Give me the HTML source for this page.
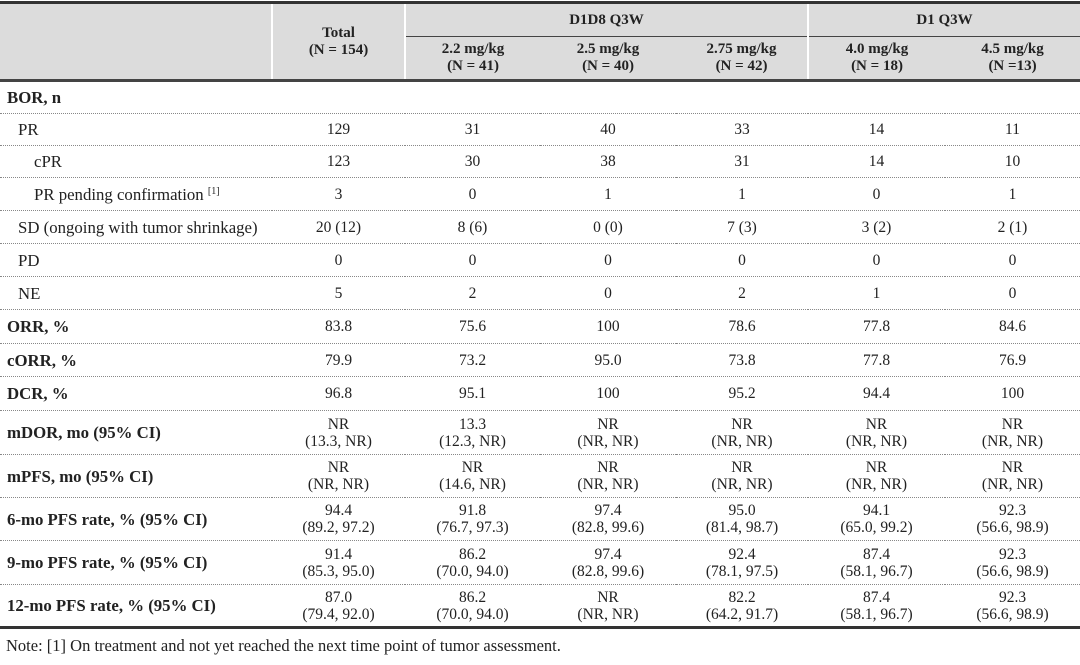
<!DOCTYPE html>
<html><head><meta charset="utf-8"><style>
html,body{margin:0;padding:0;background:#fff;width:1080px;height:665px;overflow:hidden}
body{font-family:"Liberation Serif",serif;font-size:15px;color:#222}
table{position:absolute;left:0;top:1px;width:1080px;border-collapse:collapse;table-layout:fixed;border-top:3px solid #333;border-bottom:3px solid #333}
td,th{padding:0;text-align:center;vertical-align:middle;line-height:17px}
tbody td{font-size:15.5px}
thead th{background:#dcdcdc;font-weight:bold}
thead tr.h1 th{height:32px}
thead tr.h2 th{height:42px}
.sep{border-left:2px solid #fff}
.gl{border-bottom:1.5px solid #444}
thead{border-bottom:3px solid #444}
tbody td{border-bottom:1px dotted #888}
tbody tr:last-child td{border-bottom:none}
td.l,td.l2,td.l3{text-align:left;font-size:16.8px}
td.l{padding-left:7px}
td.l2{padding-left:18px}
td.l3{padding-left:34px}
.b{font-weight:bold}
sup{font-size:10px;vertical-align:6px;line-height:0}
.note{position:absolute;left:6px;top:636px;font-size:16.5px}
</style></head><body>
<table>
<colgroup><col style="width:272px"><col style="width:133px"><col style="width:135px"><col style="width:136px"><col style="width:132px"><col style="width:137px"><col style="width:135px"></colgroup>
<thead>
<tr class="h1"><th rowspan="2"></th><th rowspan="2" class="sep">Total<br>(N = 154)</th><th colspan="3" class="sep gl">D1D8 Q3W</th><th colspan="2" class="sep gl">D1 Q3W</th></tr>
<tr class="h2"><th class="sep">2.2 mg/kg<br>(N = 41)</th><th>2.5 mg/kg<br>(N = 40)</th><th>2.75 mg/kg<br>(N = 42)</th><th class="sep">4.0 mg/kg<br>(N = 18)</th><th>4.5 mg/kg<br>(N =13)</th></tr>
</thead>
<tbody>
<tr style="height:33px"><td class="l b">BOR, n</td><td></td><td></td><td></td><td></td><td></td><td></td></tr>
<tr style="height:32px"><td class="l2">PR</td><td>129</td><td>31</td><td>40</td><td>33</td><td>14</td><td>11</td></tr>
<tr style="height:32px"><td class="l3">cPR</td><td>123</td><td>30</td><td>38</td><td>31</td><td>14</td><td>10</td></tr>
<tr style="height:33px"><td class="l3">PR pending confirmation <sup>[1]</sup></td><td>3</td><td>0</td><td>1</td><td>1</td><td>0</td><td>1</td></tr>
<tr style="height:33px"><td class="l2">SD (ongoing with tumor shrinkage)</td><td>20 (12)</td><td>8 (6)</td><td>0 (0)</td><td>7 (3)</td><td>3 (2)</td><td>2 (1)</td></tr>
<tr style="height:33px"><td class="l2">PD</td><td>0</td><td>0</td><td>0</td><td>0</td><td>0</td><td>0</td></tr>
<tr style="height:33px"><td class="l2">NE</td><td>5</td><td>2</td><td>0</td><td>2</td><td>1</td><td>0</td></tr>
<tr style="height:34px"><td class="l b">ORR, %</td><td>83.8</td><td>75.6</td><td>100</td><td>78.6</td><td>77.8</td><td>84.6</td></tr>
<tr style="height:33px"><td class="l b">cORR, %</td><td>79.9</td><td>73.2</td><td>95.0</td><td>73.8</td><td>77.8</td><td>76.9</td></tr>
<tr style="height:34px"><td class="l b">DCR, %</td><td>96.8</td><td>95.1</td><td>100</td><td>95.2</td><td>94.4</td><td>100</td></tr>
<tr style="height:44px"><td class="l b">mDOR, mo (95% CI)</td><td>NR<br>(13.3, NR)</td><td>13.3<br>(12.3, NR)</td><td>NR<br>(NR, NR)</td><td>NR<br>(NR, NR)</td><td>NR<br>(NR, NR)</td><td>NR<br>(NR, NR)</td></tr>
<tr style="height:43px"><td class="l b">mPFS, mo (95% CI)</td><td>NR<br>(NR, NR)</td><td>NR<br>(14.6, NR)</td><td>NR<br>(NR, NR)</td><td>NR<br>(NR, NR)</td><td>NR<br>(NR, NR)</td><td>NR<br>(NR, NR)</td></tr>
<tr style="height:43px"><td class="l b">6-mo PFS rate, % (95% CI)</td><td>94.4<br>(89.2, 97.2)</td><td>91.8<br>(76.7, 97.3)</td><td>97.4<br>(82.8, 99.6)</td><td>95.0<br>(81.4, 98.7)</td><td>94.1<br>(65.0, 99.2)</td><td>92.3<br>(56.6, 98.9)</td></tr>
<tr style="height:44px"><td class="l b">9-mo PFS rate, % (95% CI)</td><td>91.4<br>(85.3, 95.0)</td><td>86.2<br>(70.0, 94.0)</td><td>97.4<br>(82.8, 99.6)</td><td>92.4<br>(78.1, 97.5)</td><td>87.4<br>(58.1, 96.7)</td><td>92.3<br>(56.6, 98.9)</td></tr>
<tr style="height:43px"><td class="l b">12-mo PFS rate, % (95% CI)</td><td>87.0<br>(79.4, 92.0)</td><td>86.2<br>(70.0, 94.0)</td><td>NR<br>(NR, NR)</td><td>82.2<br>(64.2, 91.7)</td><td>87.4<br>(58.1, 96.7)</td><td>92.3<br>(56.6, 98.9)</td></tr>
</tbody>
</table>
<div class="note">Note: [1] On treatment and not yet reached the next time point of tumor assessment.</div>
</body></html>
